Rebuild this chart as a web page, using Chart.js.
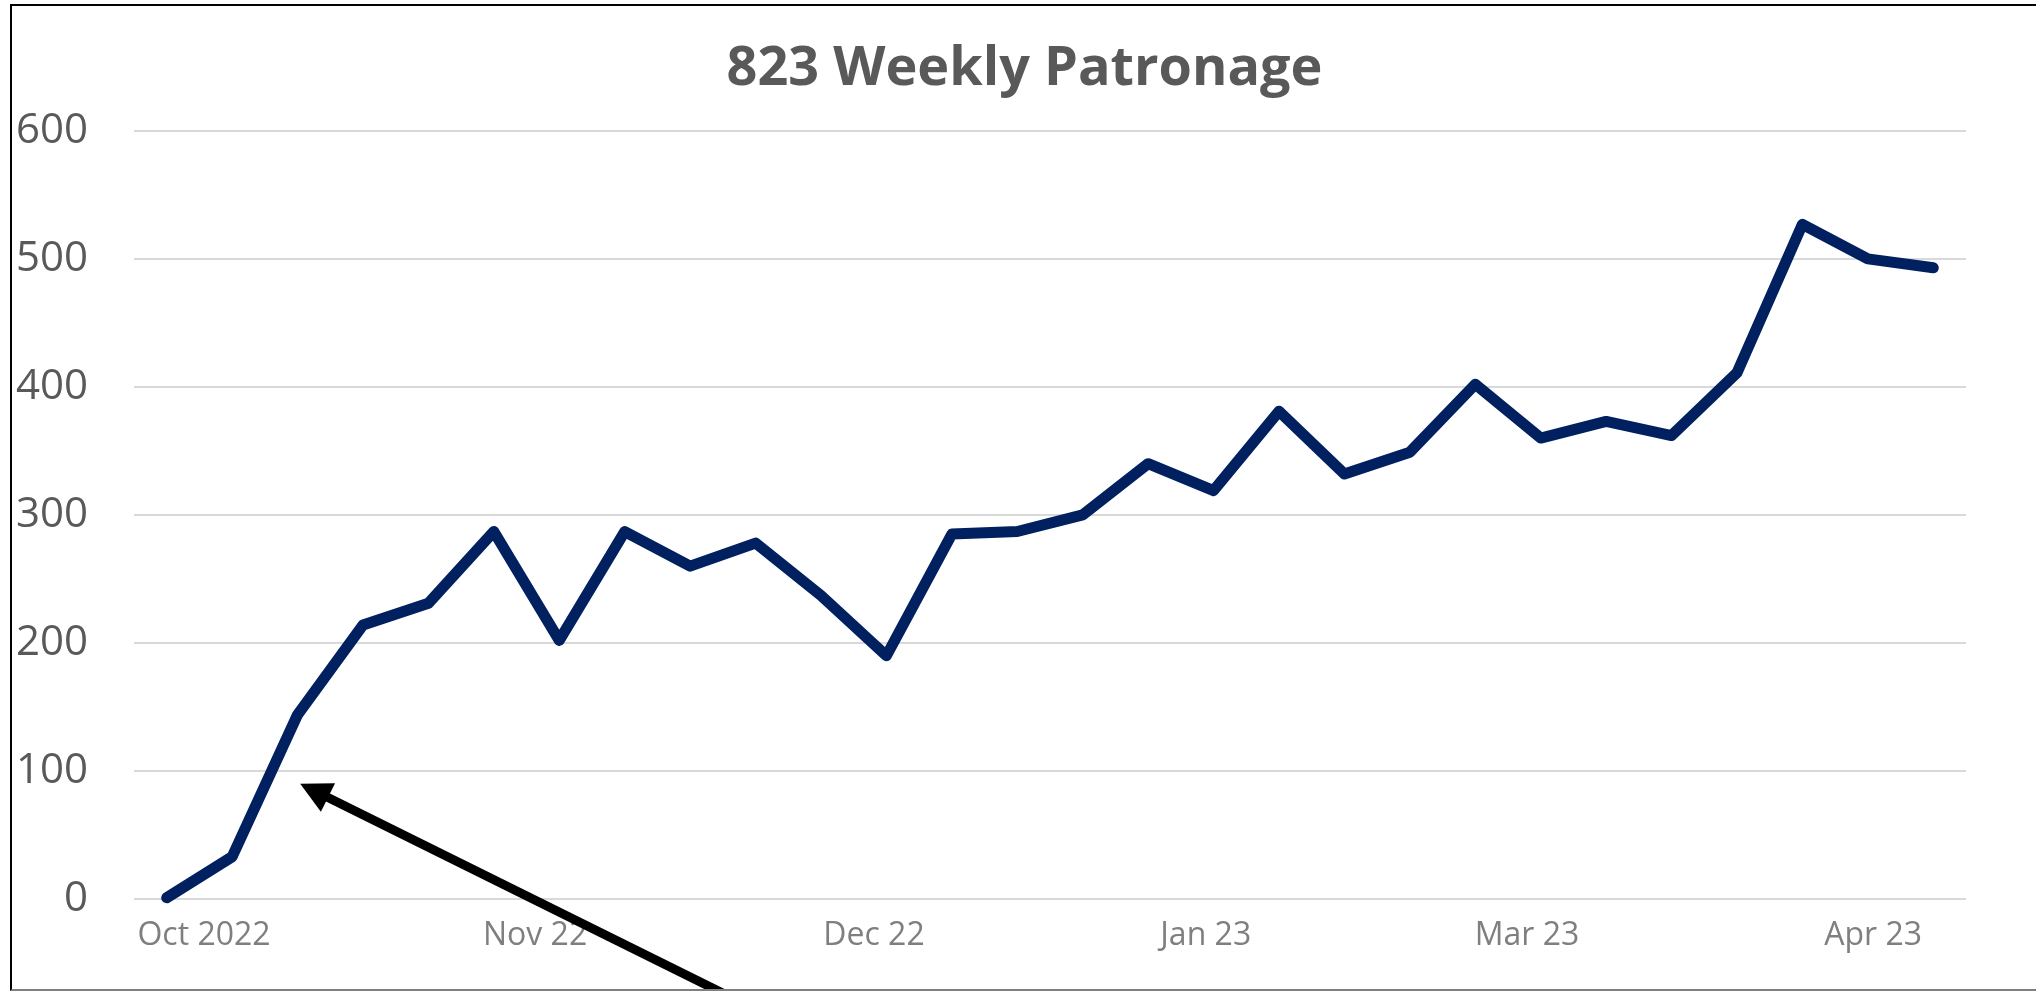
<!DOCTYPE html>
<html>
<head>
<meta charset="utf-8">
<title>823 Weekly Patronage</title>
<script src="https://cdn.jsdelivr.net/npm/chart.js@4.4.0/dist/chart.umd.min.js"></script>
<style>
  html, body { margin: 0; padding: 0; background: #fff; overflow: hidden; }
  .frame {
    position: absolute;
    left: 10px;
    top: 4px;
    width: 2024px;
    height: 983px;
    border-left: 2px solid #000;
    border-top: 2px solid #000;
    border-bottom: 2px solid #7f7f7f;
  }
  .frame canvas { display: block; }
</style>
</head>
<body>
<div class="frame"><canvas id="patronage" width="2024" height="983"></canvas></div>
<script>
// weekly boardings, one value per week from early Oct 2022
const weeklyPatronage = [1, 33, 144, 214, 231, 287, 202, 287, 260, 278, 237, 190, 285, 287,
  300, 340, 319, 381, 332, 349, 402, 360, 373, 362, 411, 527, 500, 493];

// month labels and the week (index) they sit at on the axis
const monthLabels = ["Oct 2022", "Nov 22", "Dec 22", "Jan 23", "Mar 23", "Apr 23"];
const monthTickWeeks = [0.57, 5.63, 10.81, 15.88, 20.79, 26.08];

// callout arrow, in week / patronage units
const arrowTail = { x: 9.94, y: -110 };
const arrowTip = { x: 2.04, y: 90 };

const arrowPlugin = {
  id: "arrow",
  afterDraw(chart) {
    const { ctx, scales: { x, y } } = chart;
    const x0 = x.getPixelForValue(arrowTail.x);
    const y0 = y.getPixelForValue(arrowTail.y);
    const x1 = x.getPixelForValue(arrowTip.x);
    const y1 = y.getPixelForValue(arrowTip.y);
    const a = Math.atan2(y1 - y0, x1 - x0);
    const cos = Math.cos(a), sin = Math.sin(a);
    const head = 31, half = 16;

    ctx.save();
    ctx.strokeStyle = "#000";
    ctx.fillStyle = "#000";
    ctx.lineWidth = 9;
    ctx.beginPath();
    ctx.moveTo(x0, y0);
    ctx.lineTo(x1 - cos * head * 0.8, y1 - sin * head * 0.8);
    ctx.stroke();

    ctx.beginPath();
    ctx.moveTo(x1, y1);
    ctx.lineTo(x1 - head * cos + half * sin, y1 - head * sin - half * cos);
    ctx.lineTo(x1 - head * cos - half * sin, y1 - head * sin + half * cos);
    ctx.closePath();
    ctx.fill();
    ctx.restore();
  },
};

const ctx = document.getElementById("patronage").getContext("2d");

new Chart(ctx, {
  type: "line",
  data: {
    datasets: [
      {
        label: "Weekly Patronage",
        data: weeklyPatronage.map((v, i) => ({ x: i, y: v })),
        borderColor: "#002060",
        borderWidth: 11,
        borderCapStyle: "round",
        borderJoinStyle: "round",
        pointRadius: 0,
        tension: 0,
        clip: false,
      },
    ],
  },
  options: {
    responsive: false,
    animation: false,
    layout: {
      autoPadding: false,
      padding: { left: 1, right: 0, top: 0, bottom: 30 },
    },
    plugins: {
      legend: { display: false },
      tooltip: { enabled: false },
      title: {
        display: true,
        text: "823 Weekly Patronage",
        color: "#595959",
        font: { family: "Open Sans", size: 54, weight: "bold" },
        padding: { top: 31, bottom: 29 },
      },
    },
    scales: {
      x: {
        type: "linear",
        min: -0.5,
        max: 27.5,
        grid: { display: false, drawTicks: false },
        border: { display: false },
        afterBuildTicks: (scale) => {
          scale.ticks = monthTickWeeks.map((v) => ({ value: v }));
        },
        afterFit: (scale) => {
          scale.height = 60;
        },
        ticks: {
          callback: (value, index) => monthLabels[index],
          autoSkip: false,
          maxRotation: 0,
          padding: 18,
          color: "#7f7f7f",
          font: { family: "Open Sans", size: 32 },
        },
      },
      y: {
        min: 0,
        max: 600,
        afterFit: (scale) => {
          scale.width = 121;
        },
        grid: { color: "#d9d9d9", lineWidth: 2, drawTicks: false },
        border: { display: false },
        ticks: {
          stepSize: 100,
          padding: 46,
          color: "#595959",
          font: { family: "Open Sans", size: 42 },
        },
      },
      // empty right-hand axis, only keeps the plot clear of the right edge
      yRight: {
        position: "right",
        grid: { display: false },
        border: { display: false },
        ticks: { display: false },
        afterFit: (scale) => {
          scale.width = 70;
        },
      },
    },
  },
  plugins: [arrowPlugin],
});
</script>
</body>
</html>
